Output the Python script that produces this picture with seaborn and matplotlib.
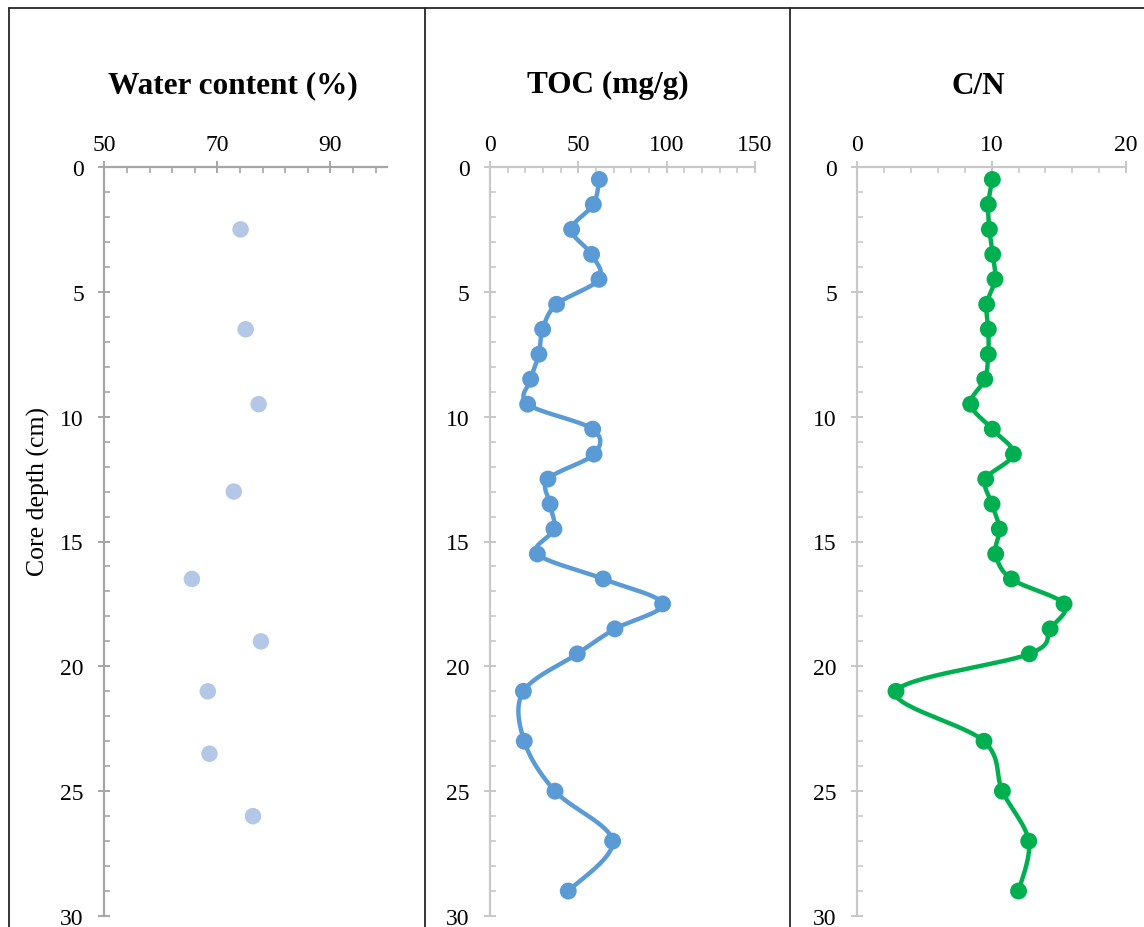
import numpy as np
import matplotlib
matplotlib.use("Agg")
import matplotlib.pyplot as plt
import seaborn as sns
from matplotlib.lines import Line2D
from matplotlib.ticker import FixedLocator

sns.set_theme(style="white")
plt.rcParams["font.family"] = ["Liberation Serif", "DejaVu Serif"]

# ---- data -------------------------------------------------------------
water_depth = [2.5, 6.5, 9.5, 13, 16.5, 19, 21, 23.5, 26]
water_content = [74.1, 75.0, 77.3, 72.9, 65.5, 77.7, 68.3, 68.6, 76.3]

core_depth = [0.5, 1.5, 2.5, 3.5, 4.5, 5.5, 6.5, 7.5, 8.5, 9.5,
              10.5, 11.5, 12.5, 13.5, 14.5, 15.5, 16.5, 17.5, 18.5, 19.5,
              21, 23, 25, 27, 29]
toc = [61.9, 58.5, 46.2, 57.5, 61.7, 37.7, 29.8, 27.7, 23.0, 21.3,
       58.1, 58.9, 32.8, 34.0, 36.2, 26.8, 64.1, 97.7, 70.7, 49.4,
       18.9, 19.4, 36.8, 69.4, 44.3]
cn_ratio = [10.05, 9.75, 9.83, 10.08, 10.25, 9.63, 9.75, 9.75, 9.49, 8.44,
            10.05, 11.62, 9.56, 10.03, 10.57, 10.3, 11.47, 15.39, 14.35, 12.81,
            2.88, 9.43, 10.8, 12.76, 12.0]

titles = ["Water content (%)", "TOC (mg/g)", "C/N"]
depth_label = "Core depth (cm)"

# ---- figure -----------------------------------------------------------
W, H = 1144, 928
fig = plt.figure(figsize=(W / 100, H / 100), dpi=100)
fig.patch.set_facecolor("white")


def px_axes(x0, x1, y0, y1):
    """Axes placed by pixel edges (top-left origin)."""
    return fig.add_axes([x0 / W, 1 - y1 / H, (x1 - x0) / W, (y1 - y0) / H])


ax_w = px_axes(104.3, 387.0, 168, 917)
ax_t = px_axes(490.0, 755.0, 168, 917)
ax_c = px_axes(857.3, 1126.0, 168, 917)


def style_axis(ax, xlim, major, minor, color):
    ax.set_facecolor("none")
    ax.set_xlim(*xlim)
    ax.set_ylim(30, 0)
    lo, hi = xlim
    ax.xaxis.set_major_locator(FixedLocator(np.arange(lo, hi + 1e-9, major)))
    ax.xaxis.set_minor_locator(FixedLocator(np.arange(lo, hi + 1e-9, minor)))
    ax.yaxis.set_major_locator(FixedLocator(np.arange(0, 31, 5)))
    ax.yaxis.set_minor_locator(FixedLocator(np.arange(0, 31, 1)))
    ax.xaxis.tick_top()
    ax.xaxis.set_label_position("top")
    for s in ("right", "bottom"):
        ax.spines[s].set_visible(False)
    for s in ("top", "left"):
        ax.spines[s].set_visible(True)
        ax.spines[s].set_color(color)
        ax.spines[s].set_linewidth(1.6)
    ax.tick_params(which="major", direction="inout", length=8.5, width=1.4,
                   color=color, labelsize=17, labelcolor="black")
    ax.tick_params(axis="x", which="major", pad=4.5)
    ax.tick_params(axis="y", which="major", pad=10.5)
    ax.tick_params(which="minor", direction="in", length=4, width=1.2,
                   color=color)
    ax.tick_params(axis="x", which="both", top=True, bottom=False)
    ax.tick_params(axis="y", which="both", left=True, right=False)
    ax.grid(False)


def smooth_curve(ax, x, y, n=30):
    """Bezier smoothing through every point, built in display space."""
    pts = ax.transData.transform(np.column_stack([x, y]))
    ext = np.vstack([pts[0], pts, pts[-1]])
    t = np.linspace(0, 1, n)[:, None]
    segs = []
    for i in range(len(pts) - 1):
        p0, p3 = ext[i + 1], ext[i + 2]
        c1 = p0 + (ext[i + 2] - ext[i]) / 6
        c2 = p3 - (ext[i + 3] - ext[i + 1]) / 6
        seg = ((1 - t) ** 3) * p0 + 3 * ((1 - t) ** 2) * t * c1 \
            + 3 * (1 - t) * (t ** 2) * c2 + (t ** 3) * p3
        segs.append(seg if i == 0 else seg[1:])
    out = ax.transData.inverted().transform(np.vstack(segs))
    return out[:, 0], out[:, 1]


style_axis(ax_w, (50, 100), 20, 4, "#A6A6A6")
style_axis(ax_t, (0, 150), 50, 10, "#C8C8C8")
style_axis(ax_c, (0, 20), 10, 2, "#C8C8C8")
# the water-content scale has no major tick at its right end
ax_w.xaxis.set_major_locator(FixedLocator([50, 70, 90]))

marker_area = (16.5 / 1.389) ** 2

# Water content: markers only
sns.scatterplot(x=water_content, y=water_depth, ax=ax_w, color="#B4C7E7",
                s=marker_area, edgecolor="none", zorder=3, legend=False)

# TOC and C/N: smoothed lines with markers
for ax, vals, col in ((ax_t, toc, "#5B9BD5"), (ax_c, cn_ratio, "#00B050")):
    xs, ys = smooth_curve(ax, vals, core_depth)
    sns.lineplot(x=xs, y=ys, ax=ax, sort=False, estimator=None, color=col,
                 linewidth=3.2, zorder=2, legend=False)
    sns.scatterplot(x=vals, y=core_depth, ax=ax, color=col,
                    s=marker_area * 1.05, edgecolor="none", zorder=3,
                    legend=False)

for ax in (ax_w, ax_t, ax_c):
    ax.set_xlabel("")
    ax.set_ylabel("")
    ax.set_ylim(30, 0)

# panel titles and depth label
for cx, txt in zip((233, 608, 978), titles):
    fig.text(cx / W, 1 - 93.5 / H, txt, ha="center", va="baseline",
             fontsize=22.5, fontweight="bold", color="black")
fig.text(38 / W, 1 - 492 / H, depth_label, rotation=90, ha="center",
         va="center", fontsize=18.5, color="black")

# panel frames
frame = dict(color="#262626", linewidth=1.3, transform=fig.transFigure)
fig.add_artist(Line2D([9 / W, 1], [1 - 9 / H, 1 - 9 / H], **frame))
for xp in (9, 425, 790):
    fig.add_artist(Line2D([xp / W, xp / W], [0, 1 - 9 / H], **frame))

fig.savefig("out.png", dpi=100, facecolor="white")
